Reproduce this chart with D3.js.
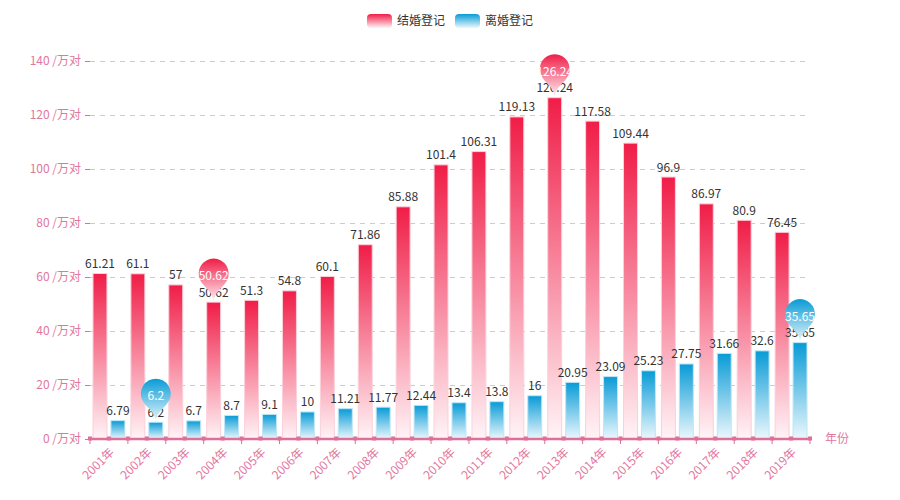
<!DOCTYPE html>
<html><head><meta charset="utf-8">
<script src="https://cdn.jsdelivr.net/npm/d3@7/dist/d3.min.js"></script>
<style>body{margin:0;background:#fff} text{font-family:"Microsoft YaHei","Noto Sans CJK SC",sans-serif}</style>
</head><body><svg id="c" width="900" height="500"></svg>
<script>
const years = ["2001年","2002年","2003年","2004年","2005年","2006年","2007年","2008年","2009年","2010年","2011年","2012年","2013年","2014年","2015年","2016年","2017年","2018年","2019年"];
const marriage = [61.21,61.1,57,50.62,51.3,54.8,60.1,71.86,85.88,101.4,106.31,119.13,126.24,117.58,109.44,96.9,86.97,80.9,76.45];
const divorce = [6.79,6.2,6.7,8.7,9.1,10,11.21,11.77,12.44,13.4,13.8,16,20.95,23.09,25.23,27.75,31.66,32.6,35.65];
const seriesNames = ["结婚登记","离婚登记"];
const yTicks = [0,20,40,60,80,100,120,140];
const yUnit = " /万对";
const xName = "年份";

const svg = d3.select("#c");
const gLeft = 90, gRight = 810, gTop = 60.5, gBottom = 439;
const axisColor = "#df6f98";
const labelColor = "#e2779e";

const defs = svg.append("defs");
function grad(id, c0, c1) {
  const g = defs.append("linearGradient").attr("id", id).attr("x1",0).attr("y1",0).attr("x2",0).attr("y2",1);
  g.append("stop").attr("offset","0%").attr("stop-color", c0);
  g.append("stop").attr("offset","100%").attr("stop-color", c1);
}
grad("gRed", "#f01d47", "#fff4f7");
grad("gBlue", "#089bd6", "#ecf8fd");
const fills = ["url(#gRed)", "url(#gBlue)"];
const strokes = ["#fbd0da", "#bfe6f6"];

const x0 = d3.scaleBand().domain(years).range([gLeft, gRight]).padding(0);
const x1 = d3.scaleBand().domain([0,1]).range([3, x0.bandwidth()-3]).paddingInner(0.222);
const y = d3.scaleLinear().domain([0,140]).range([gBottom, gTop]);

// grid
svg.append("g").selectAll("line").data(yTicks.filter(d=>d>0)).join("line")
  .attr("x1", gLeft).attr("x2", gRight)
  .attr("y1", d=>Math.round(y(d))+0.5).attr("y2", d=>Math.round(y(d))+0.5)
  .attr("stroke", "#cccccc").attr("stroke-dasharray", "5,5");

// y axis labels + ticks
const yg = svg.append("g");
yg.selectAll("line").data(yTicks).join("line")
  .attr("x1", gLeft-5).attr("x2", gLeft)
  .attr("y1", d=>Math.round(y(d))+0.5).attr("y2", d=>Math.round(y(d))+0.5)
  .attr("stroke", axisColor);
yg.selectAll("text").data(yTicks).join("text")
  .attr("x", gLeft-9).attr("y", d=>y(d)).attr("dy","0.35em")
  .attr("text-anchor","end").attr("font-size",12).attr("fill",labelColor)
  .text(d=>d+yUnit);

// bars
const series = [marriage, divorce];
series.forEach((vals, si) => {
  svg.append("g").selectAll("rect").data(vals).join("rect")
    .attr("x", (d,i)=>x0(years[i])+x1(si))
    .attr("width", x1.bandwidth())
    .attr("y", d=>y(d))
    .attr("height", d=>gBottom - y(d))
    .attr("fill", fills[si])
    .attr("stroke", strokes[si]).attr("stroke-width", 1);
});

// x axis
const xg = svg.append("g");
xg.append("line").attr("x1", gLeft).attr("x2", gRight).attr("y1", gBottom).attr("y2", gBottom)
  .attr("stroke", axisColor).attr("stroke-width", 2.5);
const tickPos = years.map(d=>x0(d)).concat([gRight]);
xg.selectAll("line.t").data(tickPos).join("line").attr("class","t")
  .attr("x1", d=>d).attr("x2", d=>d).attr("y1", gBottom).attr("y2", gBottom+5)
  .attr("stroke", axisColor);
const bumpPos = tickPos.concat(years.map(d=>x0(d)+x0.bandwidth()/2));
xg.selectAll("rect").data(bumpPos).join("rect")
  .attr("x", d=>d-2).attr("y", gBottom-2.5).attr("width",4).attr("height",4)
  .attr("fill", axisColor);
xg.selectAll("text").data(years).join("text")
  .attr("transform", d=>`translate(${x0(d)+x0.bandwidth()/2},${gBottom+8}) rotate(-45)`)
  .attr("text-anchor","end").attr("dy","0.7em").attr("font-size",12).attr("fill",labelColor)
  .text(d=>d);
svg.append("text").attr("x", gRight+15).attr("y", gBottom).attr("dy","0.35em")
  .attr("font-size",12).attr("fill",labelColor).text(xName);

// value labels
series.forEach((vals, si) => {
  svg.append("g").selectAll("text").data(vals).join("text")
    .attr("x", (d,i)=>x0(years[i])+x1(si)+x1.bandwidth()/2)
    .attr("y", d=>y(d)-5.5)
    .attr("text-anchor","middle").attr("font-size",12).attr("fill","#333")
    .text(d=>d);
});

// mark points (pins) for max/min
function pinPath(x, tipY) {
  const w = 30, h = 50, r = w/2;
  const dy = r*r/(h-r);
  const cy = tipY - h + r + dy;
  const angle = Math.asin(dy/r);
  const dx = Math.cos(angle)*r;
  const tanX = Math.sin(angle), tanY = Math.cos(angle);
  const cpLen = r*0.6, cpLen2 = r*0.7;
  const p = d3.path();
  p.moveTo(x-dx, cy+dy);
  p.arc(x, cy, r, Math.PI-angle, Math.PI*2+angle);
  p.bezierCurveTo(x+dx-tanX*cpLen, cy+dy+tanY*cpLen, x, tipY-cpLen2, x, tipY);
  p.bezierCurveTo(x, tipY-cpLen2, x-dx+tanX*cpLen, cy+dy+tanY*cpLen, x-dx, cy+dy);
  p.closePath();
  return p.toString();
}
series.forEach((vals, si) => {
  const mx = d3.maxIndex(vals), mn = d3.minIndex(vals);
  [mx, mn].forEach(i => {
    const cx = x0(years[i])+x1(si)+x1.bandwidth()/2;
    const ty = y(vals[i]);
    const g = svg.append("g");
    g.append("path").attr("d", pinPath(cx, ty)).attr("fill", fills[si]);
    g.append("text").attr("x", cx).attr("y", ty-26).attr("dy","0.35em")
      .attr("text-anchor","middle").attr("font-size",12).attr("fill","#fff")
      .text(vals[i]);
  });
});

// legend
const legendX = [367, 455];
seriesNames.forEach((n, si) => {
  svg.append("rect").attr("x", legendX[si]).attr("y", 14).attr("width", 25).attr("height", 14)
    .attr("rx", 4).attr("fill", fills[si]);
  svg.append("text").attr("x", legendX[si]+30).attr("y", 21).attr("dy","0.35em")
    .attr("font-size",12).attr("fill","#333").text(n);
});
</script></body></html>
